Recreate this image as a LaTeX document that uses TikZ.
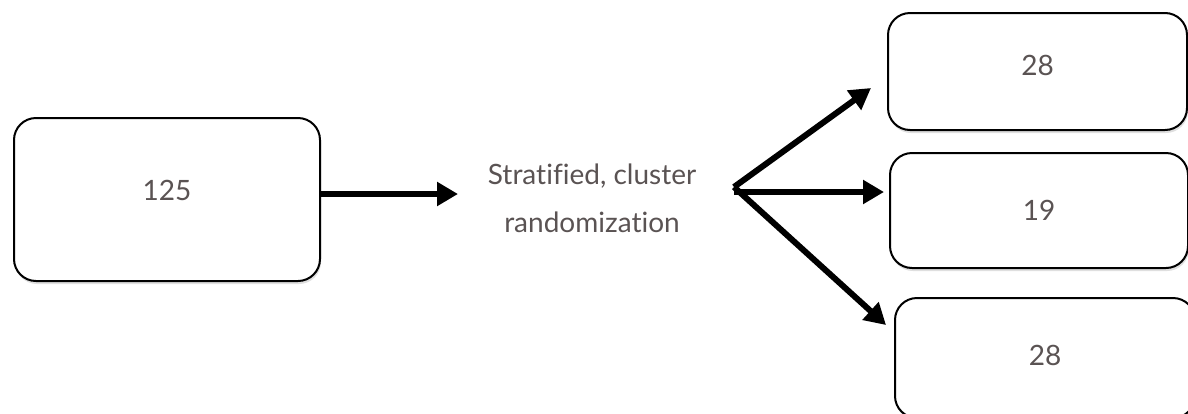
\documentclass[tikz,border=0pt]{standalone}
\usepackage{fontspec}
\setmainfont{Lato}[Ligatures=NoCommon]
\usetikzlibrary{arrows.meta,shadows}
\definecolor{txt}{RGB}{90,83,83}
\tikzset{
  box/.style={draw=black, line width=2pt, rounded corners=22pt, fill=white,
    drop shadow={shadow xshift=1pt, shadow yshift=-3pt, opacity=0.25, fill=gray},
    text=txt, font=\fontsize{28}{32}\selectfont, inner sep=0pt},
  arr/.style={line width=6pt, -{Triangle[length=21pt,width=23pt]}},
}
\begin{document}
\begin{tikzpicture}[x=1pt,y=-1pt]
\useasboundingbox (0,0) rectangle (1188,413);
\node[box, minimum width=306pt, minimum height=163pt] (src) at (167,199.5) {\raisebox{19pt}{125}};
\node[text=txt, font=\fontsize{28}{48}\selectfont, align=center] (rand) at (592,198) {Stratified, cluster\\randomization};
\node[box, minimum width=299pt, minimum height=117pt] (a) at (1037.5,71.5) {\raisebox{13pt}{28}};
\node[box, minimum width=298pt, minimum height=115pt] (b) at (1039,210.5) {19};
\node[box, minimum width=300pt, minimum height=120pt] (c) at (1045,358) {\raisebox{6pt}{28}};
\coordinate (hub) at (734,187);
\coordinate (ta) at (871,88);
\coordinate (tc) at (886,325);
\draw[arr] (src.east |- 0,194) -- (458,194) coordinate (tr);
\draw[arr] (hub) -- (ta);
\draw[arr] (hub |- 0,192) -- (b.west |- 0,192) [shorten >=5pt];
\draw[arr] (hub) -- (tc);
\end{tikzpicture}
\end{document}
